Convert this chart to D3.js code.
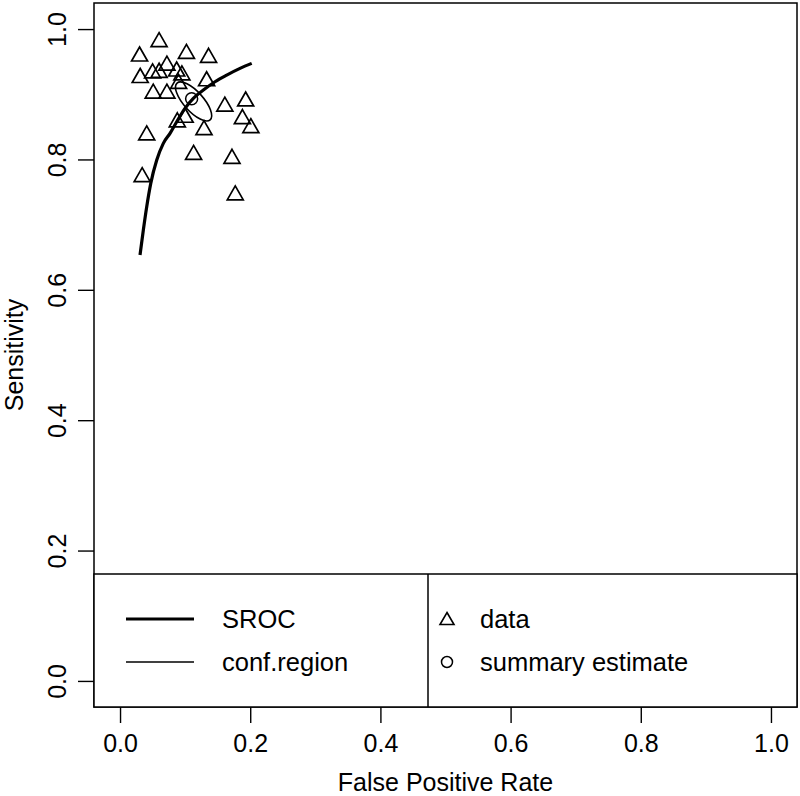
<!DOCTYPE html>
<html><head><meta charset="utf-8">
<script src="https://cdn.jsdelivr.net/npm/d3@7"></script>
<style>body{margin:0;background:#fff}svg{display:block}text{font-family:"Liberation Sans",Arial,sans-serif;fill:#000}</style>
</head><body><svg id="c" width="800" height="796"></svg>
<script>
// data: study points (False Positive Rate, Sensitivity)
const dataFpr  = [0.060,0.030,0.102,0.136,0.031,0.050,0.060,0.072,0.087,0.095,0.133,0.090,0.051,0.072,0.161,0.193,0.188,0.201,0.100,0.088,0.129,0.041,0.113,0.172,0.034,0.177];
const dataSens = [0.983,0.961,0.965,0.959,0.928,0.935,0.936,0.947,0.938,0.932,0.923,0.919,0.904,0.904,0.884,0.892,0.865,0.851,0.867,0.860,0.848,0.840,0.810,0.804,0.776,0.748];
// SROC curve
const srocFpr  = [0.0307,0.0358,0.0410,0.0472,0.0564,0.0665,0.0768,0.0871,0.0998,0.1126,0.1280,0.1459,0.1639,0.1843,0.2023];
const srocSens = [0.6534,0.6917,0.7274,0.7633,0.7991,0.8247,0.8400,0.8578,0.8784,0.8937,0.9064,0.9192,0.9294,0.9397,0.9474];
// summary estimate and confidence region (ellipse)
const summaryFpr = [0.110];
const summarySens = [0.893];
const confCenter = [0.113, 0.889];
const confSemiAxes = [0.038, 0.015];
const confAngleDeg = [48];
const xTicks = [0.0,0.2,0.4,0.6,0.8,1.0];
const yTicks = [0.0,0.2,0.4,0.6,0.8,1.0];
const legendLines = ["SROC","conf.region"];
const legendSymbols = ["data","summary estimate"];

const svg = d3.select("#c");
const x = d3.scaleLinear().domain([-0.04,1.04]).range([94,797]);
const y = d3.scaleLinear().domain([-0.04,1.04]).range([707,3]);
const fmt = d3.format(".1f");
const FS = 25;

// x axis
const xa = svg.append("g").attr("transform","translate(0,707)")
  .call(d3.axisBottom(x).tickValues(xTicks).tickFormat(fmt).tickSize(16));
xa.select(".domain").remove();
xa.selectAll("line").attr("stroke","#000").attr("stroke-width",1.4);
xa.selectAll("text").attr("font-size",FS).attr("font-family","Liberation Sans, Arial, sans-serif")
  .attr("y",45).attr("dy",0);

// y axis
const ya = svg.append("g").attr("transform","translate(94,0)")
  .call(d3.axisLeft(y).tickValues(yTicks).tickFormat(fmt).tickSize(16));
ya.select(".domain").remove();
ya.selectAll("line").attr("stroke","#000").attr("stroke-width",1.4);
ya.selectAll("text").attr("font-size",FS).attr("font-family","Liberation Sans, Arial, sans-serif")
  .attr("text-anchor","middle").attr("dy",0).attr("x",0).attr("y",0)
  .attr("transform","translate(-28,0) rotate(-90)");

// axis titles
svg.append("text").attr("x",(94+797)/2).attr("y",791).attr("text-anchor","middle").attr("font-size",FS).text("False Positive Rate");
svg.append("text").attr("transform","translate(23,"+((3+707)/2)+") rotate(-90)").attr("text-anchor","middle").attr("font-size",FS).text("Sensitivity");

// plot box
svg.append("rect").attr("x",94).attr("y",3).attr("width",703).attr("height",704).attr("fill","none").attr("stroke","#000").attr("stroke-width",1.5);

// SROC
const line = d3.line().x(d=>x(d[0])).y(d=>y(d[1])).curve(d3.curveMonotoneX);
svg.append("path").datum(srocFpr.map((f,i)=>[f,srocSens[i]])).attr("d",line)
  .attr("fill","none").attr("stroke","#000").attr("stroke-width",3.2);

// confidence region
const rx = x(confSemiAxes[0]) - x(0), ry = x(confSemiAxes[1]) - x(0);
svg.append("ellipse").attr("cx",0).attr("cy",0).attr("rx",rx).attr("ry",ry)
  .attr("transform","translate("+x(confCenter[0])+","+y(confCenter[1])+") rotate("+confAngleDeg[0]+")")
  .attr("fill","none").attr("stroke","#000").attr("stroke-width",1.6);

// triangles
const tri = "M0,-7.5L8,6.5L-8,6.5Z";
svg.append("g").selectAll("path").data(dataFpr.map((f,i)=>[f,dataSens[i]])).join("path")
  .attr("d",tri).attr("transform",d=>"translate("+x(d[0])+","+y(d[1])+")")
  .attr("fill","none").attr("stroke","#000").attr("stroke-width",1.7);

// summary estimate
svg.append("g").selectAll("circle").data(summaryFpr.map((f,i)=>[f,summarySens[i]])).join("circle")
  .attr("cx",d=>x(d[0])).attr("cy",d=>y(d[1])).attr("r",6)
  .attr("fill","none").attr("stroke","#000").attr("stroke-width",1.5);

// legend
const lg = svg.append("g");
lg.append("rect").attr("x",94).attr("y",574).attr("width",703).attr("height",133).attr("fill","#fff").attr("stroke","#000").attr("stroke-width",1.5);
lg.append("line").attr("x1",428).attr("x2",428).attr("y1",574).attr("y2",707).attr("stroke","#000").attr("stroke-width",1.5);
const rowY = [619,662];
lg.append("line").attr("x1",126).attr("x2",194).attr("y1",rowY[0]).attr("y2",rowY[0]).attr("stroke","#000").attr("stroke-width",3.2);
lg.append("line").attr("x1",126).attr("x2",194).attr("y1",rowY[1]).attr("y2",rowY[1]).attr("stroke","#000").attr("stroke-width",1.6);
legendLines.forEach((t,i)=>lg.append("text").attr("x",222).attr("y",rowY[i]+9).attr("font-size",25.5).text(t));
lg.append("path").attr("d","M0,-6.5L7,5.5L-7,5.5Z").attr("transform","translate(447,"+rowY[0]+")").attr("fill","none").attr("stroke","#000").attr("stroke-width",1.6);
lg.append("circle").attr("cx",447).attr("cy",rowY[1]).attr("r",5.5).attr("fill","none").attr("stroke","#000").attr("stroke-width",1.5);
legendSymbols.forEach((t,i)=>lg.append("text").attr("x",480).attr("y",rowY[i]+9).attr("font-size",25.5).text(t));
</script></body></html>
